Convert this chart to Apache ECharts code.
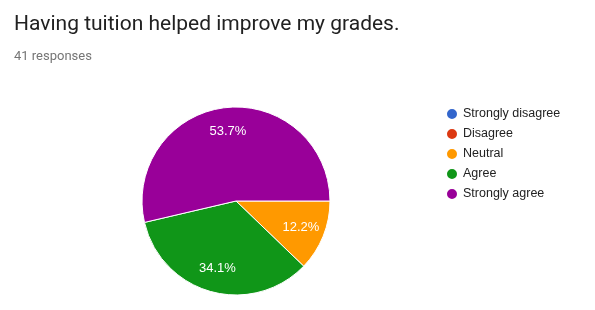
<!DOCTYPE html>
<html><head><meta charset="utf-8">
<script src="https://cdn.jsdelivr.net/npm/echarts@6/dist/echarts.min.js"></script>
<style>html,body{margin:0;padding:0;background:#fff}#c{width:595px;height:310px}</style>
</head><body><div id="c"></div>
<script>
const categories = ['Strongly disagree', 'Disagree', 'Neutral', 'Agree', 'Strongly agree'];
const counts = [0, 0, 5, 14, 22];
const colors = ['#3366cc', '#dc3912', '#ff9900', '#109618', '#990099'];
const titleText = 'Having tuition helped improve my grades.';
const subText = '41 responses';

const data = categories.map((c, i) => ({ name: c, value: counts[i] }));
const chart = echarts.init(document.getElementById('c'));
chart.setOption({
  animation: false,
  color: colors,
  title: [
    { text: titleText, left: 9, top: 9, textStyle: { fontFamily: 'Roboto', fontSize: 21, fontWeight: 'normal', color: '#212121' } },
    { text: subText, left: 9, top: 45, textStyle: { fontFamily: 'Roboto', fontSize: 13, fontWeight: 'normal', color: '#757575' } }
  ],
  legend: {
    orient: 'vertical', left: 440, top: 102, icon: 'circle', itemWidth: 12, itemHeight: 12, itemGap: 6,
    textStyle: { fontFamily: 'Arial', fontSize: 12.5, color: '#222' }, data: categories
  },
  series: [
    {
      type: 'pie', center: [236, 201], radius: [0, 94], startAngle: 0, clockwise: true,
      avoidLabelOverlap: false, label: { show: false }, labelLine: { show: false },
      itemStyle: { borderColor: '#fff', borderWidth: 1 }, emphasis: { disabled: true },
      data: data
    },
    {
      type: 'pie', center: [236, 201], radius: [0, 134], startAngle: 0, clockwise: true, silent: true,
      avoidLabelOverlap: false, legendHoverLink: false,
      itemStyle: { color: 'rgba(0,0,0,0)' }, labelLine: { show: false },
      label: { show: true, position: 'inside', fontFamily: 'Arial', fontSize: 13, color: '#fff',
        formatter: p => p.value > 0 ? p.percent.toFixed(1) + '%' : '' },
      data: data.map(d => ({ name: d.name + ' ', value: d.value }))
    }
  ]
});
</script></body></html>
